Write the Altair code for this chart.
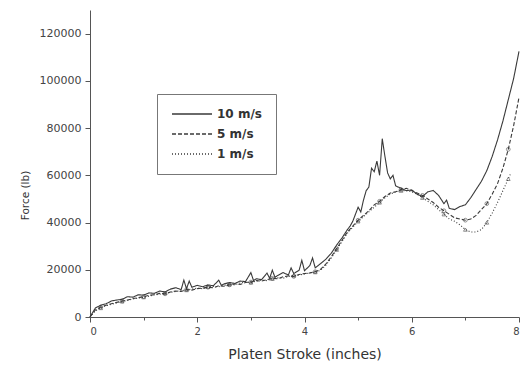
import altair as alt
import pandas as pd

series_names = ["10 m/s", "5 m/s", "1 m/s"]

# ---- 10 m/s ----
x_10 = [0.0, 0.1, 0.2, 0.3, 0.4, 0.5, 0.6, 0.7, 0.8, 0.9,
        1.0, 1.1, 1.2, 1.3, 1.4, 1.5, 1.6, 1.7, 1.75, 1.8,
        1.85, 1.9, 2.0, 2.1, 2.2, 2.3, 2.4, 2.45, 2.5, 2.6,
        2.7, 2.8, 2.9, 3.0, 3.05, 3.1, 3.2, 3.3, 3.35, 3.4,
        3.45, 3.5, 3.6, 3.7, 3.75, 3.8, 3.9, 3.95, 4.0, 4.1,
        4.15, 4.2, 4.3, 4.4, 4.5, 4.6, 4.7, 4.8, 4.85, 4.9,
        5.0, 5.05, 5.1, 5.15, 5.2, 5.25, 5.3, 5.35, 5.4, 5.45,
        5.5, 5.55, 5.6, 5.65, 5.7, 5.8, 5.9, 6.0, 6.1, 6.2,
        6.3, 6.4, 6.5, 6.6, 6.65, 6.7, 6.8, 6.9, 7.0, 7.1,
        7.2, 7.3, 7.4, 7.5, 7.6, 7.7, 7.8, 7.9, 8.0]
f_10 = [0, 3800, 5000, 5600, 6800, 7200, 7500, 8600, 8400, 9400,
        9300, 10200, 10000, 11000, 10600, 11800, 12400, 11600, 15600, 12000,
        15200, 12600, 13400, 12800, 13600, 13200, 15600, 13400, 14000, 14600,
        14200, 15200, 15000, 18800, 15400, 16200, 15800, 18600, 16400, 19800,
        16800, 17600, 18800, 17800, 20800, 18400, 19800, 24000, 19600, 21800,
        25000, 20800, 22600, 24500, 27000, 30500, 33500, 37000, 38500, 40500,
        46500, 44500, 49500, 53500, 55000, 63000, 61500, 66000, 60000, 75500,
        68000, 61000, 58500, 60000, 55500, 54500, 53500, 53800, 52000, 51000,
        53000, 53600, 51500, 48000, 49500, 46000, 45500, 46800, 47500, 50500,
        54000, 57500, 62000, 68000, 75000, 83000, 92000, 101000, 112500]

# ---- 5 m/s ----
x_5 = [0.0, 0.1, 0.2, 0.3, 0.4, 0.5, 0.6, 0.7, 0.8, 0.9,
       1.0, 1.1, 1.2, 1.3, 1.4, 1.5, 1.6, 1.7, 1.8, 1.9,
       2.0, 2.1, 2.2, 2.3, 2.4, 2.5, 2.6, 2.7, 2.8, 2.9,
       3.0, 3.1, 3.2, 3.3, 3.4, 3.5, 3.6, 3.7, 3.8, 3.9,
       4.0, 4.1, 4.2, 4.3, 4.4, 4.5, 4.6, 4.7, 4.8, 4.9,
       5.0, 5.1, 5.2, 5.3, 5.4, 5.5, 5.6, 5.7, 5.8, 5.9,
       6.0, 6.1, 6.2, 6.3, 6.4, 6.5, 6.6, 6.7, 6.8, 6.9,
       7.0, 7.1, 7.2, 7.3, 7.4, 7.5, 7.6, 7.7, 7.8, 7.9,
       8.0]
f_5 = [0, 3000, 4200, 5000, 5600, 6200, 6800, 7200, 7800, 8200,
       8600, 9200, 9400, 10000, 9800, 10600, 11000, 10800, 11600, 11400,
       12000, 12200, 12600, 12400, 13200, 13000, 13600, 14000, 13800, 14600,
       14800, 15400, 15200, 15800, 16400, 16200, 17000, 17400, 17200, 18000,
       18400, 18600, 19200, 20200, 22500, 25500, 29000, 32500, 36000, 38500,
       41000, 43000, 45000, 47500, 49000, 51000, 52500, 53000, 54000, 54500,
       53500, 52500, 51500, 50000, 48500, 46500, 45000, 43500, 42000, 41500,
       41000, 41500, 43000, 45500, 48000, 52000, 56500, 63000, 71000, 81000,
       93000]

# ---- 1 m/s ----
x_1 = [0.0, 0.1, 0.2, 0.3, 0.4, 0.5, 0.6, 0.7, 0.8, 0.9,
       1.0, 1.1, 1.2, 1.3, 1.4, 1.5, 1.6, 1.7, 1.8, 1.9,
       2.0, 2.1, 2.2, 2.3, 2.4, 2.5, 2.6, 2.7, 2.8, 2.9,
       3.0, 3.1, 3.2, 3.3, 3.4, 3.5, 3.6, 3.7, 3.8, 3.9,
       4.0, 4.1, 4.2, 4.3, 4.4, 4.5, 4.6, 4.7, 4.8, 4.9,
       5.0, 5.1, 5.2, 5.3, 5.4, 5.5, 5.6, 5.7, 5.8, 5.9,
       6.0, 6.1, 6.2, 6.3, 6.4, 6.5, 6.6, 6.7, 6.8, 6.9,
       7.0, 7.1, 7.2, 7.3, 7.4, 7.5, 7.6, 7.7, 7.8, 7.85]
f_1 = [0, 2600, 3800, 4800, 5400, 6000, 6600, 7000, 7600, 8000,
       8400, 8800, 9400, 9600, 10200, 10400, 10800, 11200, 11400, 11800,
       12200, 12000, 12800, 13000, 12800, 13400, 13800, 13600, 14400, 14800,
       14600, 15200, 15600, 15400, 16200, 16600, 16400, 17200, 17600, 17800,
       18200, 18800, 19000, 19800, 22000, 25000, 28500, 32000, 35500, 38000,
       40500, 42500, 44500, 46500, 48500, 50500, 52000, 53000, 53500, 53500,
       53000, 52000, 50500, 49000, 47500, 45500, 43500, 41500, 40500, 39000,
       37000, 36000, 36000, 37000, 40000, 44000, 48500, 53500, 58500, 61000]

x_ticks = [0, 1, 2, 3, 4, 5, 6, 7, 8]
y_ticks = [0, 10000, 20000, 30000, 40000, 50000, 60000, 70000, 80000,
           90000, 100000, 110000, 120000]

rows = []
for name, xs, ys in zip(series_names, [x_10, x_5, x_1], [f_10, f_5, f_1]):
    for i, (x, y) in enumerate(zip(xs, ys)):
        rows.append({"series": name, "stroke": x, "force": y, "idx": i})
df = pd.DataFrame(rows)

FONT = "DejaVu Sans"
AX = "#555555"
LINE = "#3a3a3a"

x_enc = alt.X("stroke:Q",
              scale=alt.Scale(domain=[0, 8], nice=False, zero=False),
              axis=alt.Axis(values=x_ticks, grid=False,
                            labelExpr="datum.value % 2 == 0 ? datum.label : ''",
                            tickSize={"condition": {"test": "datum.value % 2 == 0", "value": 5}, "value": 3},
                            title="Platen Stroke (inches)", titlePadding=11,
                            labelPadding=4, labelFontSize=10, titleFontSize=14,
                            titleFontWeight="normal"))
y_enc = alt.Y("force:Q",
              scale=alt.Scale(domain=[0, 130000], nice=False),
              axis=alt.Axis(values=y_ticks, grid=False, format="d",
                            labelExpr="datum.value % 20000 == 0 ? datum.label : ''",
                            tickSize={"condition": {"test": "datum.value % 20000 == 0", "value": 5}, "value": 3},
                            title="Force (lb)", titleX=-60, titleY=185,
                            labelPadding=4, labelFontSize=11, titleFontSize=10.5,
                            titleFontWeight="normal"))

dash = alt.StrokeDash("series:N",
                      scale=alt.Scale(domain=series_names,
                                      range=[[1, 0], [4, 2], [1, 2]]),
                      legend=alt.Legend(title=None, orient="none",
                                        legendX=67, legendY=84,
                                        symbolType="M-1,0H7", symbolSize=100,
                                        symbolStrokeColor=LINE,
                                        symbolStrokeWidth=1.3,
                                        labelOffset=34,
                                        labelFont=FONT, labelFontSize=12,
                                        labelFontWeight="bold", labelColor="#333333",
                                        strokeColor="#777777", fillColor="white",
                                        padding=14, rowPadding=8))

lines = alt.Chart(df).mark_line(color=LINE, strokeWidth=1.1).encode(
    x=x_enc, y=y_enc, strokeDash=dash, detail="series:N", order="idx:Q")

markers = alt.Chart(df).transform_filter(
    "datum.series != '10 m/s' && datum.idx % 4 == 2"
).mark_point(filled=False, size=14, strokeWidth=0.8, color=LINE).encode(
    x="stroke:Q", y="force:Q",
    shape=alt.Shape("series:N",
                    scale=alt.Scale(domain=["5 m/s", "1 m/s"],
                                    range=["circle", "triangle-up"]),
                    legend=None))

chart = (lines + markers).properties(
    width=429, height=307,
    autosize=alt.AutoSizeParams(type="none"),
    padding={"left": 90, "top": 10, "right": 3, "bottom": 51},
).configure_view(stroke=None).configure_axis(
    domainColor=AX, tickColor=AX, labelColor="#444444", titleColor="#333333",
    labelFont=FONT, titleFont=FONT, domainWidth=1
)

chart.save("out.html", embed_options={"renderer": "svg", "actions": False})
